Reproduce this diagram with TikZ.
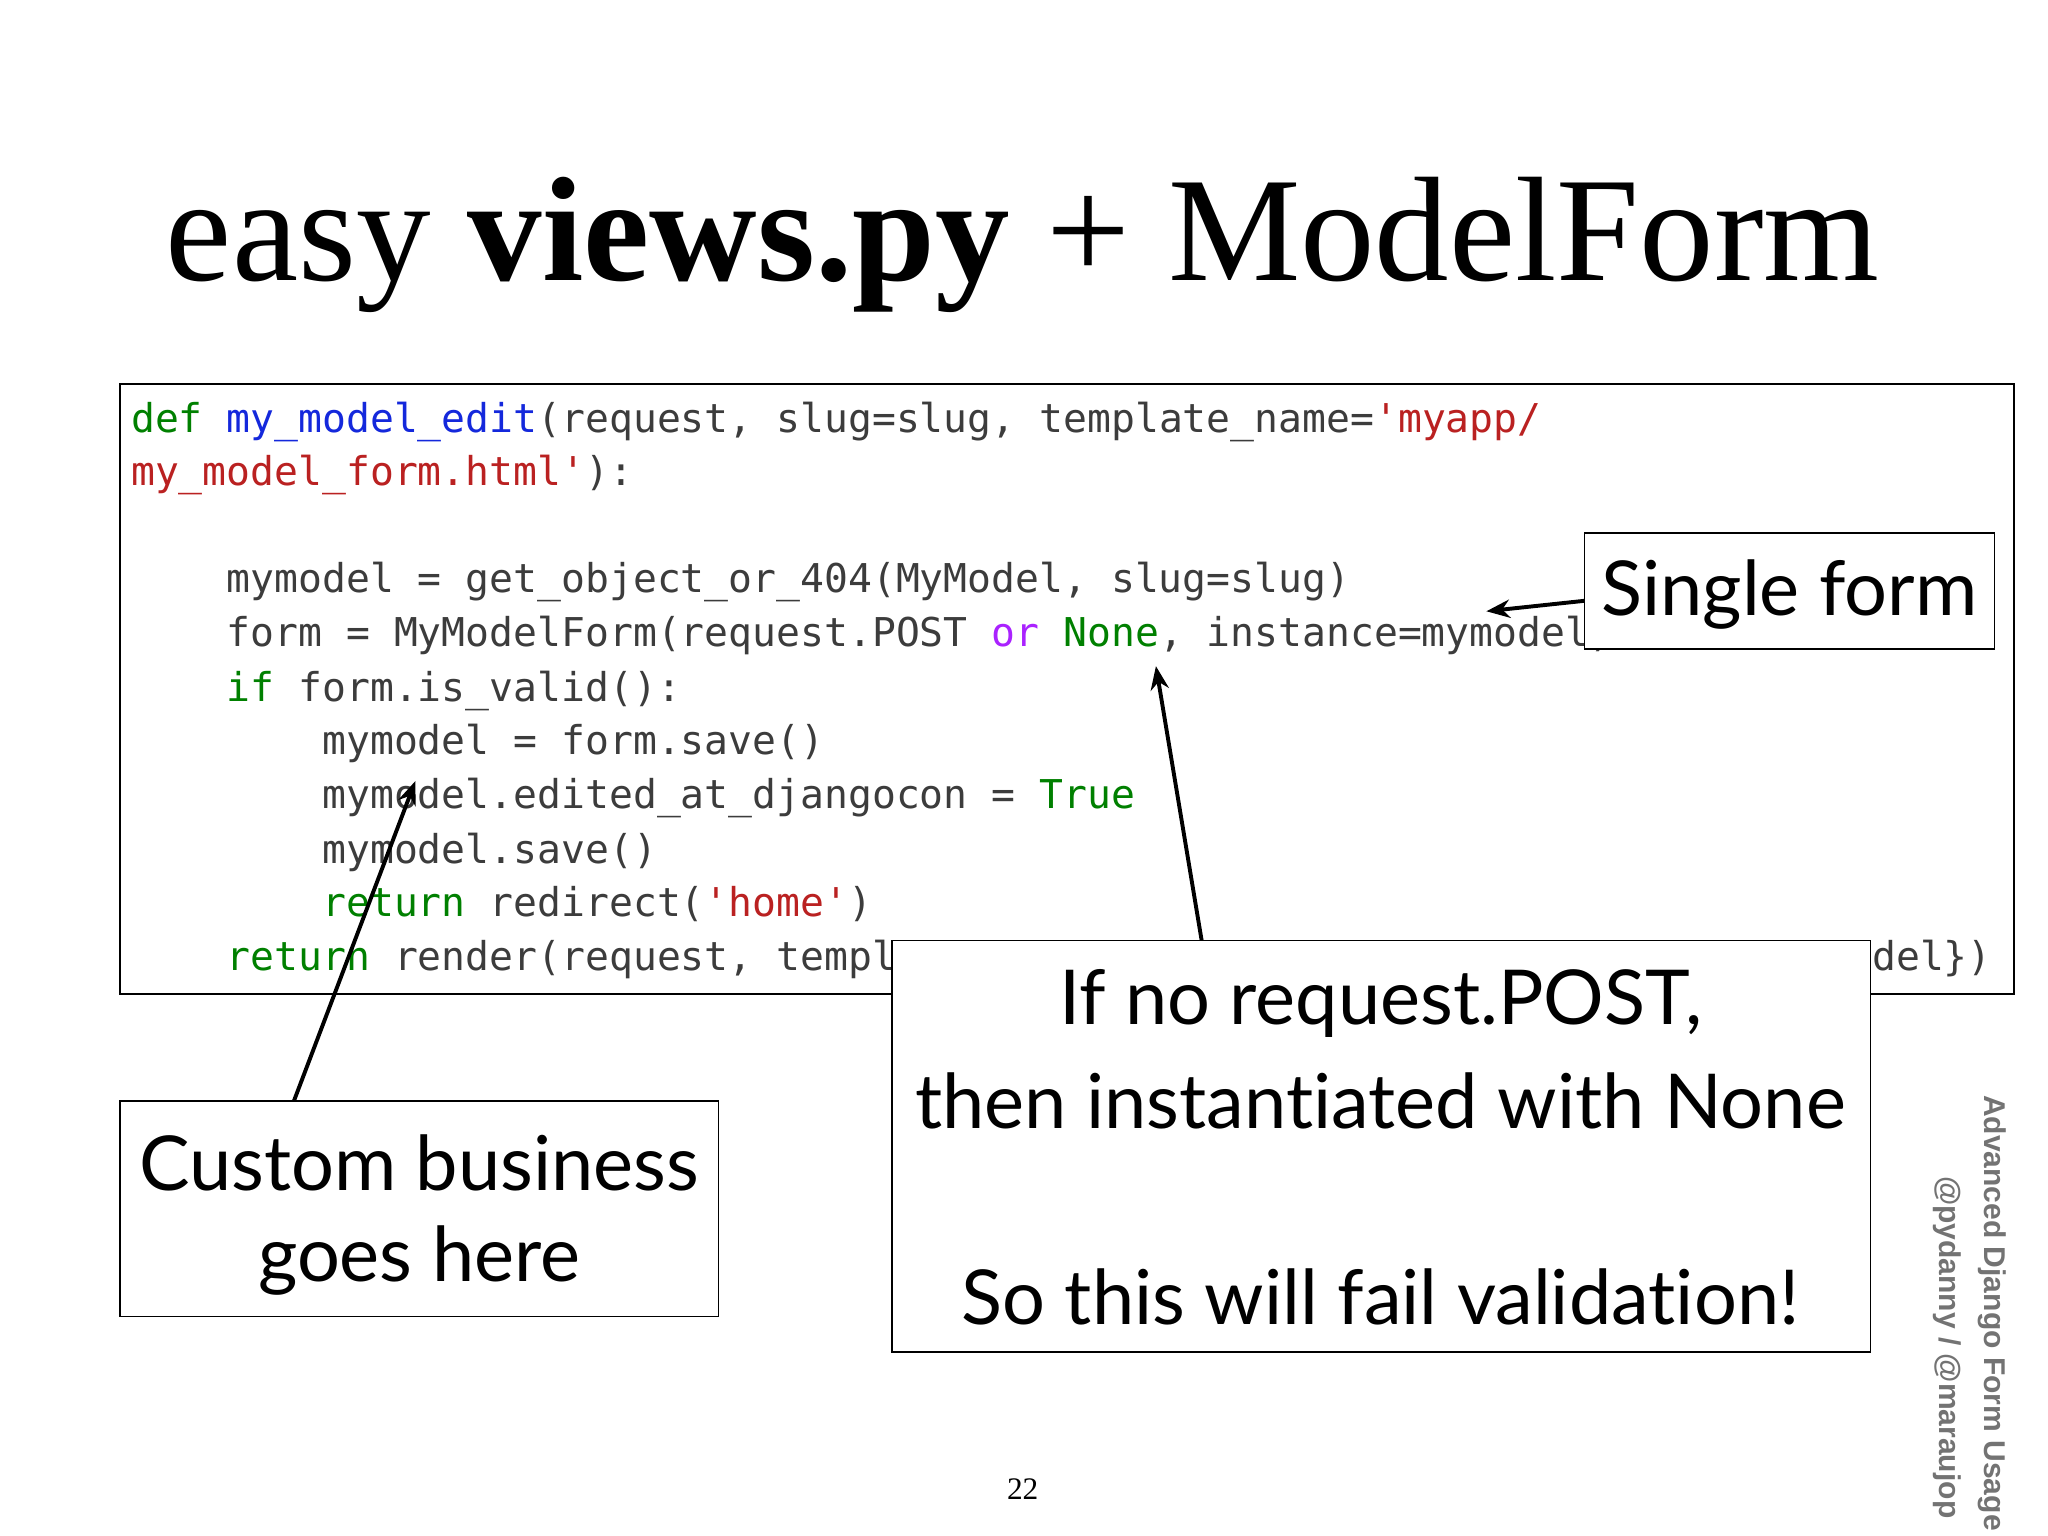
\documentclass[tikz,border=0pt]{standalone}
\usepackage{fontspec}
\setmainfont{Liberation Serif}
\newfontfamily\callfont[Ligatures=NoCommon]{Lato}
\newfontfamily\codefont{DejaVu Sans Mono}
\newfontfamily\sidefont{Liberation Sans}
\usetikzlibrary{arrows.meta}
\definecolor{kgreen}{RGB}{0,128,0}
\definecolor{kblue}{RGB}{20,40,220}
\definecolor{kred}{RGB}{186,33,33}
\definecolor{kpurple}{RGB}{170,34,255}
\definecolor{ktext}{RGB}{60,60,60}
\tikzset{
 code/.style={anchor=base west,inner sep=0pt,font=\codefont\fontsize{15.2}{18}\selectfont,text=ktext},
 callbox/.style={draw,line width=0.6pt,fill=white},
 calltext/.style={font=\callfont\fontsize{29}{34}\selectfont,inner sep=0pt},
 arr/.style={line width=1.5pt,-{Stealth[length=9pt,width=7pt]}},
 side/.style={font=\sidefont\bfseries\fontsize{11.5}{14}\selectfont,text=black!55,rotate=-90,anchor=west,inner sep=0pt}
}
\begin{document}
\begin{tikzpicture}[x=0.5pt,y=-0.5pt]
\useasboundingbox[fill=white] (0,0) rectangle (1568,1176);
\node[font=\fontsize{57}{66}\selectfont,anchor=base] (title) at (783,215) {easy \textbf{views.py} + ModelForm};
\draw[line width=0.6pt] (92,294) rectangle (1542,761);
\node[code] (l1) at (100,331) {\textcolor{kgreen}{def} \textcolor{kblue}{my\_model\_edit}(request, slug=slug, template\_name=\textcolor{kred}{'myapp/}};
\node[code] (l2) at (100,372) {\textcolor{kred}{my\_model\_form.html'}):};
\node[code] (l4) at (100,454) {\ \ \ \ mymodel = get\_object\_or\_404(MyModel, slug=slug)};
\node[code] (l5) at (100,495) {\ \ \ \ form = MyModelForm(request.POST \textcolor{kpurple}{or} \textcolor{kgreen}{None}, instance=mymodel)};
\node[code] (l6) at (100,537) {\ \ \ \ \textcolor{kgreen}{if} form.is\_valid():};
\node[code] (l7) at (100,578) {\ \ \ \ \ \ \ \ mymodel = form.save()};
\node[code] (l8) at (100,619) {\ \ \ \ \ \ \ \ mymodel.edited\_at\_djangocon = \textcolor{kgreen}{True}};
\node[code] (l9) at (100,661) {\ \ \ \ \ \ \ \ mymodel.save()};
\node[code] (l10) at (100,702) {\ \ \ \ \ \ \ \ \textcolor{kgreen}{return} redirect(\textcolor{kred}{'home'})};
\node[code] (l11) at (100,743) {\ \ \ \ \textcolor{kgreen}{return} render(request, templ};
\node[code] (l11b) at (1433,743) {del\})};
% single form
\draw[callbox] (1213,408) rectangle (1527,497);
\node[calltext] (sf) at (1370,455) {Single form};
\coordinate (sfa) at (1213,460);
\coordinate (sft) at (1138,468);
\draw[arr] (sfa) -- (sft);
% custom business
\draw[callbox] (92,843) rectangle (550,1008);
\node[calltext] (cb1) at (321,890) {Custom business};
\node[calltext] (cb2) at (321,965) {goes here};
\coordinate (cba) at (225,843);
\coordinate (cbt) at (318,598);
\draw[arr] (cba) -- (cbt);
% right box
\draw[callbox] (683,720) rectangle (1432,1035);
\node[calltext] (r1) at (1057,768) {If no request.POST,};
\node[calltext] (r2) at (1057,843) {then instantiated with None};
\node[calltext] (r3) at (1057,993) {So this will fail validation!};
\coordinate (ra) at (920,720);
\coordinate (rt) at (885,510);
\draw[arr] (ra) -- (rt);
% footer
\node[font=\fontsize{12}{14}\selectfont] (pg) at (783,1140) {22};
\node[side] (s1) at (1525,838) {Advanced Django Form Usage};
\node[side] (s2) at (1491,900) {@pydanny / @maraujop};
\end{tikzpicture}
\end{document}
